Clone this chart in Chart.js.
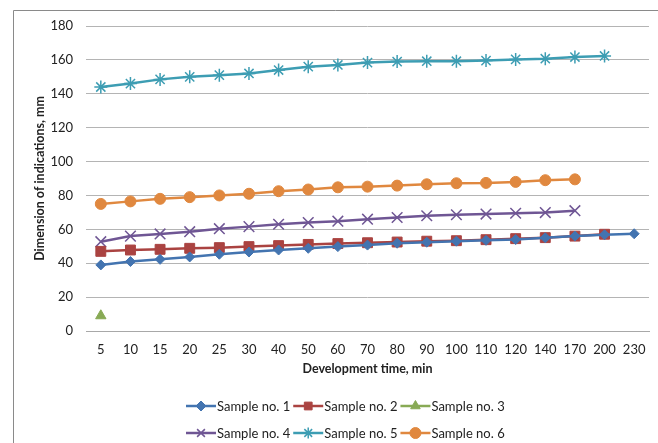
<!DOCTYPE html>
<html>
<head>
<meta charset="utf-8">
<script src="https://cdn.jsdelivr.net/npm/chart.js@4/dist/chart.umd.min.js"></script>
<style>
  html, body { margin: 0; padding: 0; background: #fff; }
  canvas { display: block; }
</style>
</head>
<body>
<canvas id="c" width="658" height="443"></canvas>
<script>
const categories = ['5','10','15','20','25','30','40','50','60','70','80','90','100','110','120','140','170','200','230'];
const sample1 = [39, 41, 42.3, 43.7, 45.3, 46.6, 47.8, 48.8, 49.8, 50.7, 51.8, 52.4, 53, 53.5, 54, 55, 56, 56.8, 57.4];
const sample2 = [47, 47.8, 48.2, 48.8, 49.2, 49.8, 50.4, 51.1, 51.6, 52.1, 52.5, 53, 53.3, 53.9, 54.5, 55.1, 56, 57.1, null];
const sample3 = [9, null, null, null, null, null, null, null, null, null, null, null, null, null, null, null, null, null, null];
const sample4 = [52.7, 56, 57.3, 58.6, 60.4, 61.6, 63, 64, 64.8, 66, 67, 68, 68.6, 69, 69.5, 69.9, 71, null, null];
const sample5 = [144, 146, 148.5, 150, 151, 152, 154, 156, 157, 158.4, 159, 159.2, 159.2, 159.6, 160.3, 160.7, 161.7, 162.3, null];
const sample6 = [75, 76.5, 78, 79, 80, 81, 82.5, 83.5, 84.8, 85.2, 85.8, 86.6, 87.2, 87.4, 88, 89, 89.5, null, null];
const seriesNames = ['Sample no. 1','Sample no. 2','Sample no. 3','Sample no. 4','Sample no. 5','Sample no. 6'];
const yTicks = {min: 0, max: 180, step: 20};

const FONT = 'Lato, "Liberation Sans", sans-serif';

function ds(label, data, color, style, radius, bw) {
  return {
    label, data,
    borderColor: color, backgroundColor: color,
    borderWidth: 2.5,
    pointStyle: style, pointRadius: radius, pointHoverRadius: radius,
    pointBorderColor: color, pointBackgroundColor: color,
    pointBorderWidth: bw,
    tension: 0, spanGaps: false, clip: false
  };
}

const datasets = [
  ds(seriesNames[0], sample1, '#4374b0', 'rectRot', 5, 1),
  ds(seriesNames[1], sample2, '#aa4341', 'rect', 7, 1),
  ds(seriesNames[2], sample3, '#88aa55', 'triangle', 6, 1),
  ds(seriesNames[3], sample4, '#6f5694', 'crossRot', 7.5, 1.5),
  ds(seriesNames[4], sample5, '#3d9db3', 'star', 6.5, 1.5),
  ds(seriesNames[5], sample6, '#e0883f', 'circle', 5.5, 1)
];

const framePlugin = {
  id: 'frame',
  beforeDraw(chart) {
    const ctx = chart.ctx;
    ctx.save();
    ctx.strokeStyle = '#8a8a8a';
    ctx.lineWidth = 1;
    ctx.beginPath();
    ctx.moveTo(13.5, 443);
    ctx.lineTo(13.5, 10.5);
    ctx.lineTo(658, 10.5);
    ctx.stroke();
    ctx.restore();
  }
};

const legendPlugin = {
  id: 'customLegend',
  afterDraw(chart) {
    const ctx = chart.ctx;
    ctx.save();
    ctx.font = '13px ' + FONT;
    ctx.textBaseline = 'middle';
    ctx.textAlign = 'left';
    const rows = [[0,1,2],[3,4,5]];
    const rowY = [406, 433];
    const lineLen = 30;
    rows.forEach((row, ri) => {
      let x = 186;
      const y = rowY[ri];
      row.forEach(i => {
        const d = chart.data.datasets[i];
        ctx.strokeStyle = d.borderColor;
        ctx.lineWidth = d.borderWidth;
        ctx.beginPath();
        ctx.moveTo(x, y);
        ctx.lineTo(x + lineLen, y);
        ctx.stroke();
        const opts = {
          pointStyle: d.pointStyle,
          radius: Math.min(d.pointRadius, 5.5),
          rotation: 0,
          borderWidth: d.pointBorderWidth
        };
        ctx.fillStyle = d.pointBackgroundColor;
        ctx.strokeStyle = d.pointBorderColor;
        ctx.lineWidth = d.pointBorderWidth;
        if (Chart.helpers && Chart.helpers.drawPoint) {
          Chart.helpers.drawPoint(ctx, opts, x + lineLen / 2, y);
        }
        ctx.fillStyle = '#222';
        ctx.fillText(d.label, x + lineLen + 1, y + 0.5);
        const tw = ctx.measureText(d.label).width;
        x += lineLen + 1 + tw + 3;
      });
    });
    ctx.restore();
  }
};

new Chart(document.getElementById('c'), {
  type: 'line',
  data: { labels: categories, datasets },
  plugins: [framePlugin, legendPlugin],
  options: {
    responsive: false,
    animation: false,
    events: [],
    layout: { padding: { left: 0, right: 1, top: 26, bottom: 58 } },
    plugins: {
      legend: { display: false },
      tooltip: { enabled: false }
    },
    scales: {
      x: {
        type: 'category',
        offset: true,
        grid: { display: false, drawTicks: false },
        border: { display: true, color: '#a8a8a8', width: 1 },
        ticks: { color: '#222', font: { family: FONT, size: 13 }, padding: 11, maxRotation: 0, autoSkip: false },
        title: { display: true, text: 'Development time, min', color: '#222',
                 font: { family: FONT, size: 12.5, weight: 'bold' }, padding: { top: 0, bottom: 9 } },
        afterFit(s) { s.height = 54; }
      },
      y: {
        min: yTicks.min, max: yTicks.max,
        grid: { color: '#b4b4b4', lineWidth: 1, drawTicks: false },
        border: { display: false },
        ticks: { stepSize: yTicks.step, color: '#222', font: { family: FONT, size: 13 }, padding: 13 },
        title: { display: true, text: 'Dimension of indications, mm', color: '#222',
                 font: { family: FONT, size: 12.5, weight: 'bold' }, padding: { top: 32, bottom: 0 } },
        afterFit(s) { s.width = 86; }
      }
    }
  }
});
</script>
</body>
</html>
